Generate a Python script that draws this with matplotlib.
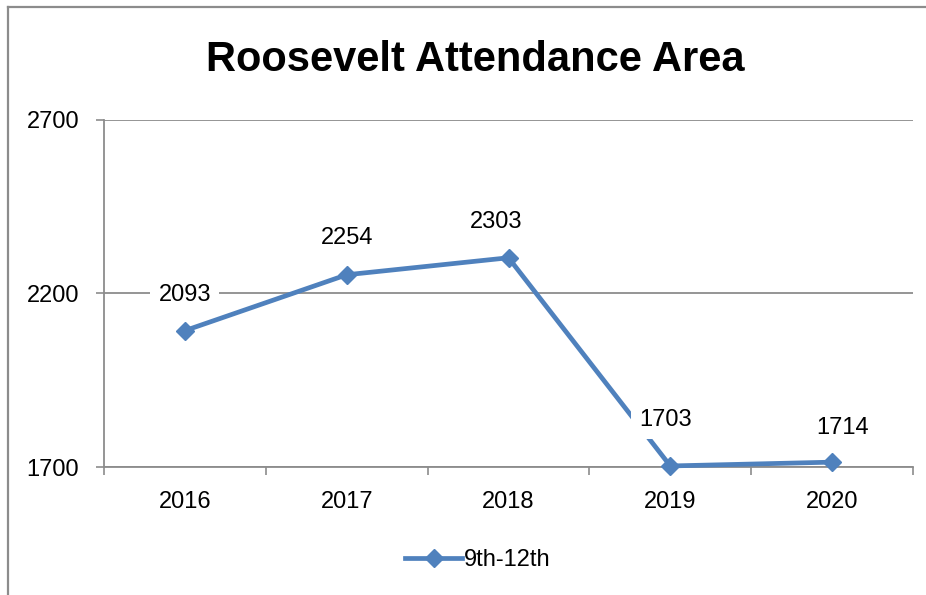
import matplotlib
matplotlib.use("Agg")
import matplotlib.pyplot as plt
from matplotlib.lines import Line2D

years = ["2016", "2017", "2018", "2019", "2020"]
values = [2093, 2254, 2303, 1703, 1714]
series_name = "9th-12th"
title = "Roosevelt Attendance Area"
yticks = [1700, 2200, 2700]

# label offsets in pixels (dx, dy) relative to each point
label_offsets = [(0, 36), (0, 37), (-12, 36), (-5, 46), (10, 34)]

blue = "#4F81BD"
grid = "#8C8C8C"
plt.rcParams["font.family"] = ["Liberation Sans", "DejaVu Sans"]
FS = 17

fig = plt.figure(figsize=(9.26, 5.95), dpi=100)
ax = fig.add_axes([104/926, 1-467/595, (913-104)/926, (467-120)/595])

x = list(range(len(years)))
ax.plot(x, values, color=blue, lw=3.4, marker="D", ms=9, mec=blue, mfc=blue,
        zorder=3, clip_on=False)
px = 72/100
for xi, v, (dx, dy) in zip(x, values, label_offsets):
    ax.annotate(str(v), (xi, v), xytext=(dx*px, dy*px), textcoords="offset points",
                ha="center", va="center", fontsize=FS, color="black", zorder=4,
                bbox=dict(boxstyle="square,pad=0.35", fc="white", ec="none"))

ax.set_xlim(-0.5, len(years) - 0.5)
ax.set_ylim(1700, 2700)
ax.set_yticks(yticks)
ax.set_yticklabels([str(t) for t in yticks], fontsize=FS)
ax.set_xticks([i - 0.5 for i in range(len(years) + 1)], minor=False)
ax.set_xticklabels([""] * (len(years) + 1))
ax.set_xticks(x, minor=True)
ax.set_xticklabels(years, minor=True, fontsize=FS)
ax.tick_params(axis="x", which="minor", length=0, pad=17)
ax.tick_params(axis="x", which="major", length=6, color=grid, direction="out", width=1.2)
ax.tick_params(axis="y", length=6, color=grid, direction="out", pad=12, width=1.2)
ax.grid(axis="y", color=grid, lw=1.3)
ax.set_axisbelow(True)
for s in ["top", "right"]:
    ax.spines[s].set_visible(False)
for s in ["left", "bottom"]:
    ax.spines[s].set_color(grid)
    ax.spines[s].set_linewidth(1.3)

fig.text(475/926, 1-60/595, title, ha="center", va="center", fontsize=30,
         fontweight="bold")

handle = Line2D([], [], color=blue, lw=3.4, marker="D", ms=9)
fig.legend([handle], [series_name], loc="center", bbox_to_anchor=(478/926, 1-560/595),
           frameon=False, fontsize=FS, handlelength=2.4, handletextpad=0.1)

# outer border (left and top visible)
fig.add_artist(Line2D([8/926, 8/926], [0, 1-7/595], color=grid, lw=1.6,
                      transform=fig.transFigure))
fig.add_artist(Line2D([8/926, 1], [1-7/595, 1-7/595], color=grid, lw=1.6,
                      transform=fig.transFigure))

fig.savefig("out.png", dpi=100)
